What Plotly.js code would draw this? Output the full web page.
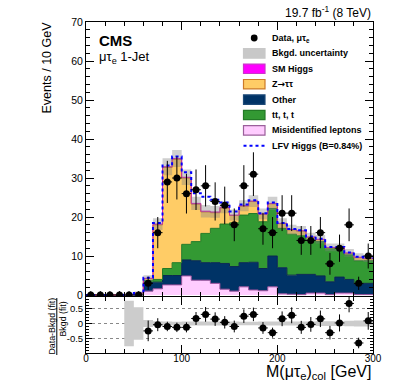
<!DOCTYPE html>
<html>
<head>
<meta charset="utf-8">
<script src="https://cdn.plot.ly/plotly-3.0.1.min.js"></script>
<style>html,body{margin:0;padding:0;background:#fff;}#plot{width:399px;height:384px;}</style>
</head>
<body>
<div id="plot"></div>
<script>
// ---- data ----
const binCenters = [5,15,25,35,45,55,65,75,85,95,105,115,125,135,145,155,165,175,185,195,205,215,225,235,245,255,265,275,285,295];
const misid = [0,0,0,0,0.1,0.2,1.0,1.6,2.6,2.6,4.9,3.8,3.8,3.0,1.5,1.0,2.1,1.3,1.1,2.1,0.3,0.2,0.1,0.5,0.5,0.1,0.5,0.5,0.1,0.1];
const other = [0,0,0,0,0,0.2,2.2,1.7,2.4,2.4,4.1,5.0,4.5,5.3,6.6,6.3,6.2,7.1,5.7,7.9,6.7,4.9,5.2,4.8,4.4,3.3,4.1,3.5,2.7,2.9];
const ttbar = [0,0,0,0,0,0,0.5,0.7,1.8,3.3,4.0,4.9,7.5,8.8,10.1,11.2,12.2,12.5,12.0,12.2,10.1,10.5,9.9,8.8,8.8,8.6,7.4,6.3,6.0,5.8];
const ztautau = [0,0,0,0,0,0.1,0.5,14.0,25.9,26.5,17.0,9.6,5.5,4.0,4.1,1.9,2.3,3.1,1.9,1.2,1.2,1.1,1.2,0.7,0.5,0.1,0.1,0.4,0.8,0.5];
const smHiggs = [0,0,0,0,0,0,0.1,0.2,0.2,0.2,0.2,0.2,0.2,0.2,0.2,0.1,0.1,0.1,0.1,0.1,0.1,0.1,0.1,0.1,0.1,0.1,0.1,0.1,0.1,0.1];
const lfvHiggs = [0,0,0,0,0,0,0.1,0.3,0.3,0.5,1.3,2.6,3.7,3.1,1.2,0.9,0.3,0.2,0.2,0.2,0.1,0.1,0.1,0.1,0.1,0.1,0.1,0.1,0.1,0.1];
const bkgUnc = [0,0,0,0,0.3,0.4,0.8,1.5,2.2,2.2,2.0,1.7,1.6,1.5,1.5,1.4,1.4,1.5,1.4,1.7,1.3,1.2,1.2,1.1,1.1,1.0,1.0,1.0,1.0,0.9];
const dataVals = [0,0,0,0,0,0,3,16,29,30,26,27,28,24,23,18,28,31,17,16,21,21,14,14,16,8,12,18,3,10];
const dataErr = [1.0,1.0,1.0,1.0,1.0,1.0,1.7,4.0,5.4,5.5,5.1,5.2,5.3,4.9,4.8,4.2,5.3,5.6,4.1,4.0,4.6,4.6,3.7,3.7,4.0,2.8,3.5,4.2,1.7,3.2];
const ratioVals = [null,null,null,null,null,null,-0.25,-0.04,-0.1,-0.13,-0.13,0.17,0.31,0.15,0.04,-0.1,0.25,0.31,-0.15,-0.31,0.16,0.28,-0.13,-0.03,0.16,-0.31,0.02,0.68,-0.66,0.09];
const ratioErr = [0,0,0,0,0,0,0.35,0.22,0.16,0.16,0.17,0.22,0.25,0.23,0.21,0.2,0.23,0.23,0.2,0.17,0.25,0.27,0.22,0.25,0.28,0.23,0.29,0.3,0.18,0.3];
const ratioBand = [0,0,0,0,0.77,0.55,0.12,0.08,0.07,0.06,0.07,0.07,0.07,0.07,0.07,0.07,0.06,0.06,0.07,0.07,0.07,0.07,0.07,0.07,0.08,0.08,0.08,0.09,0.1,0.1];
const ratioTicks = [-0.5, 0, 0.5];
const ratioTickText = ['-0.5', '0', '0.5'];

// ---- helpers ----
const BW = 10;
const stepX = binCenters.map(c => c - BW/2).concat([binCenters[binCenters.length-1] + BW/2]);
const stepY = arr => arr.concat([arr[arr.length-1]]);
function cumAdd(a, b){ return a.map((v,i)=>v+b[i]); }
const c1 = misid.slice();
const c2 = cumAdd(c1, other);
const c3 = cumAdd(c2, ttbar);
const c4 = cumAdd(c3, ztautau);
const c5 = cumAdd(c4, smHiggs);
const lfvTot = cumAdd(c5, lfvHiggs);
const bandLo = c5.map((v,i)=>v - bkgUnc[i]);
const bandHi = c5.map((v,i)=>v + bkgUnc[i]);
const rLo = ratioBand.map(v=>-v);
const rHi = ratioBand.slice();

function layer(y, fill, line, mode){
  return {x: stepX, y: stepY(y), type:'scatter', mode:'lines', line:{shape:'hv', color:line, width:1},
          fill: mode, fillcolor: fill, xaxis:'x', yaxis:'y', hoverinfo:'skip'};
}

const traces = [
  layer(c1, '#ffccff', '#9b4f9b', 'tozeroy'),
  layer(c2, '#003366', '#0a2850', 'tonexty'),
  layer(c3, '#339933', '#237a26', 'tonexty'),
  layer(c4, '#ffcc66', '#cc7a29', 'tonexty'),
  layer(c5, '#ff00ff', '#d21ab4', 'tonexty'),
  {x: stepX, y: stepY(bandLo), type:'scatter', mode:'lines', line:{shape:'hv', width:0, color:'rgba(0,0,0,0)'}, xaxis:'x', yaxis:'y', hoverinfo:'skip'},
  {x: stepX, y: stepY(bandHi), type:'scatter', mode:'lines', line:{shape:'hv', width:0, color:'rgba(0,0,0,0)'}, fill:'tonexty', fillcolor:'rgba(128,128,128,0.38)', xaxis:'x', yaxis:'y', hoverinfo:'skip'},
  {x: stepX, y: stepY(lfvTot), type:'scatter', mode:'lines', line:{shape:'hv', width:2, color:'#0000ff', dash:'dot'}, xaxis:'x', yaxis:'y', hoverinfo:'skip'},
  {x: binCenters, y: dataVals, type:'scatter', mode:'markers', marker:{color:'black', size:7},
   error_y:{type:'data', array:dataErr, color:'black', thickness:1, width:0},
   error_x:{type:'constant', value:BW/2, color:'black', thickness:1, width:0}, xaxis:'x', yaxis:'y', cliponaxis:true},
  {x: stepX, y: stepY(rLo), type:'scatter', mode:'lines', line:{shape:'hv', width:0, color:'rgba(0,0,0,0)'}, xaxis:'x2', yaxis:'y2', hoverinfo:'skip'},
  {x: stepX, y: stepY(rHi), type:'scatter', mode:'lines', line:{shape:'hv', width:0, color:'rgba(0,0,0,0)'}, fill:'tonexty', fillcolor:'#cccccc', xaxis:'x2', yaxis:'y2', hoverinfo:'skip'},
  {x: binCenters, y: ratioVals, type:'scatter', mode:'markers', marker:{color:'black', size:7},
   error_y:{type:'data', array:ratioErr, color:'black', thickness:1, width:0},
   error_x:{type:'constant', value:BW/2, color:'black', thickness:1, width:0}, xaxis:'x2', yaxis:'y2'}
];

// ---- layout (pixel helpers) ----
const L = 86, R = 373, T = 22, B = 353;
const px = x => (x - L)/(R - L);
const py = y => (B - y)/(B - T);
const FONT = 'Liberation Sans, Arial, Helvetica, sans-serif';

const legendItems = [
  {type:'marker', text:'Data, μτ<sub>e</sub>'},
  {type:'box', text:'Bkgd. uncertainty', fill:'#c8c8c8', line:'#c8c8c8'},
  {type:'box', text:'SM Higgs', fill:'#ff00ff', line:'#cc33cc'},
  {type:'box', text:'Z<span style="font-family:DejaVu Sans">→</span>ττ', fill:'#ffcc66', line:'#cc7a29'},
  {type:'box', text:'Other', fill:'#003366', line:'#1d4a78'},
  {type:'box', text:'tt, t, t', fill:'#339933', line:'#237a26'},
  {type:'box', text:'Misidentified leptons', fill:'#ffccff', line:'#9b5f9b'},
  {type:'line', text:'LFV Higgs (B=0.84%)'}
];
const shapes = [];
const annotations = [];
legendItems.forEach((it, i) => {
  const yc = 38 + 15.4*i;
  if (it.type === 'box') {
    shapes.push({type:'rect', xref:'paper', yref:'paper', x0:px(243.5), x1:px(265), y0:py(yc+4.7), y1:py(yc-4.7),
      fillcolor:it.fill, line:{color:it.line, width:1.2}, layer:'above'});
  } else if (it.type === 'marker') {
    shapes.push({type:'circle', xref:'paper', yref:'paper', x0:px(250.8), x1:px(257.6), y0:py(yc+3.4), y1:py(yc-3.4),
      fillcolor:'black', line:{color:'black', width:0}, layer:'above'});
  } else {
    shapes.push({type:'line', xref:'paper', yref:'paper', x0:px(243.5), x1:px(265), y0:py(yc), y1:py(yc),
      line:{color:'#0000ff', width:2, dash:'dot'}, layer:'above'});
  }
  annotations.push({xref:'paper', yref:'paper', x:px(269.5), y:py(yc), xanchor:'left', yanchor:'middle',
    text:'<b>'+it.text+'</b>', showarrow:false, font:{family:FONT, size:9, color:'black'}});
});

annotations.push(
  {xref:'paper', yref:'paper', x:px(97), y:py(40), xanchor:'left', yanchor:'middle', text:'<b>CMS</b>', showarrow:false, font:{family:FONT, size:15, color:'black'}},
  {xref:'paper', yref:'paper', x:px(97), y:py(57), xanchor:'left', yanchor:'middle', text:'μτ<sub>e</sub> 1-Jet', showarrow:false, font:{family:FONT, size:13, color:'black'}},
  {xref:'paper', yref:'paper', x:1, y:py(12), xanchor:'right', yanchor:'middle', text:'19.7 fb<sup>-1</sup> (8 TeV)', showarrow:false, font:{family:FONT, size:12, color:'black'}},
  {xref:'paper', yref:'paper', x:px(46.5), y:py(68), xanchor:'center', yanchor:'middle', textangle:-90, text:'Events / 10 GeV', showarrow:false, font:{family:FONT, size:12.5, color:'black'}},
  {xref:'paper', yref:'paper', x:1, y:py(372), xanchor:'right', yanchor:'middle', text:'M(μτ<sub>e</sub>)<sub>col</sub> [GeV]', showarrow:false, font:{family:FONT, size:16, color:'black'}},
  {xref:'paper', yref:'paper', x:px(51), y:py(326.5), xanchor:'center', yanchor:'middle', textangle:-90, text:'Data-Bkgd (fit)', showarrow:false, font:{family:FONT, size:8.8, color:'black'}},
  {xref:'paper', yref:'paper', x:px(62.5), y:py(319), xanchor:'center', yanchor:'middle', textangle:-90, text:'Bkgd (fit)', showarrow:false, font:{family:FONT, size:8.8, color:'black'}}
);
shapes.push({type:'line', xref:'paper', yref:'paper', x0:px(56.8), x1:px(56.8), y0:py(355), y1:py(298), line:{color:'black', width:1}});

const axCommon = {showline:true, linecolor:'black', linewidth:1, mirror:'allticks', ticks:'inside', tickcolor:'black',
  tickwidth:1, zeroline:false, showgrid:false, tickfont:{family:FONT, size:10.5, color:'black'}};

const split = (B - 296)/(B - T);
const layout = {
  width:399, height:384, margin:{l:L, r:399-R, t:T, b:384-B}, paper_bgcolor:'white', plot_bgcolor:'white', showlegend:false,
  xaxis: Object.assign({}, axCommon, {domain:[0,1], anchor:'y', range:[0,300], dtick:100, tick0:0, ticklen:8, showticklabels:false,
    minor:{dtick:20, ticklen:4, ticks:'inside', tickcolor:'black'}}),
  yaxis: Object.assign({}, axCommon, {domain:[split,1], anchor:'x', range:[-0.25,70.01], dtick:10, tick0:0, ticklen:8,
    minor:{dtick:2, ticklen:4, ticks:'inside', tickcolor:'black'}}),
  xaxis2: Object.assign({}, axCommon, {domain:[0,1], anchor:'y2', range:[0,300], dtick:100, tick0:0, ticklen:8, matches:'x',
    ticklabelstandoff:-4, tickfont:{family:FONT, size:10, color:'black'}, minor:{dtick:20, ticklen:4, ticks:'inside', tickcolor:'black'}}),
  yaxis2: Object.assign({}, axCommon, {domain:[0, split-0.003], anchor:'x2', range:[-1.0,0.9], tickvals:ratioTicks, ticktext:ratioTickText,
    ticklen:6, showgrid:true, gridcolor:'#888888', griddash:'dot', gridwidth:1, tickfont:{family:FONT, size:9.5, color:'black'},
    minor:{dtick:0.1, ticklen:3, ticks:'inside', tickcolor:'black', showgrid:false}}),
  shapes: shapes,
  annotations: annotations
};

Plotly.newPlot('plot', traces, layout, {staticPlot:true, displayModeBar:false});
</script>
</body>
</html>
